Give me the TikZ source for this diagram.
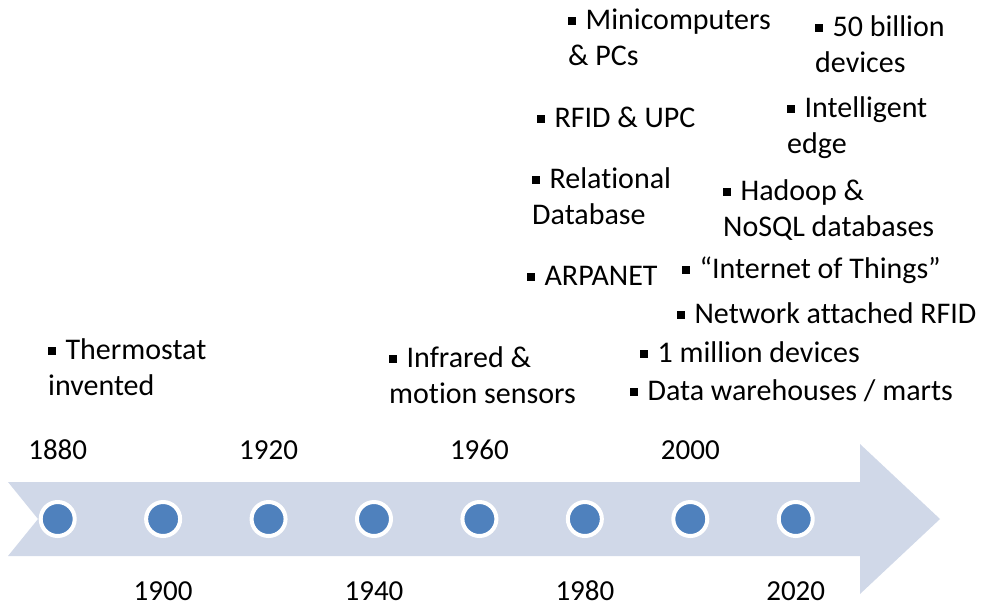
\documentclass[tikz,border=0pt]{standalone}
\usepackage{fontspec}
\setmainfont{Carlito}[Ligatures=NoCommon]
\definecolor{arrowfill}{HTML}{D0D8E8}
\definecolor{dotblue}{HTML}{4F81BD}
\newcommand{\bul}{\raisebox{0.13em}{\rule{0.27em}{0.27em}}\hspace{0.31em}}
\begin{document}
\begin{tikzpicture}[x=1pt,y=-1pt,
  item/.style={anchor=base west,inner sep=0pt,align=left,font=\fontsize{30}{36}\selectfont},
  year/.style={anchor=base,inner sep=0pt,font=\fontsize{29}{36}\selectfont},
  dot/.style={circle,fill=dotblue,draw=white,line width=4pt,minimum size=34pt,inner sep=0pt}]
\useasboundingbox (0,0) rectangle (984,606);
% big arrow
\fill[arrowfill] (8,482) -- (860,482) -- (860,444) -- (940,519) -- (860,594) -- (860,556) -- (8,556) -- (38,519) -- cycle;
% dots
\foreach \i in {0,...,7}{
  \node[dot] (d\i) at ({57.7+105.43*\i},519) {};
}
% years
\node[year] (y1880) at (57.7,459) {1880};
\node[year] (y1900) at (163.1,600) {1900};
\node[year] (y1920) at (268.6,459) {1920};
\node[year] (y1940) at (374.0,600) {1940};
\node[year] (y1960) at (479.4,459) {1960};
\node[year] (y1980) at (584.9,600) {1980};
\node[year] (y2000) at (690.3,459) {2000};
\node[year] (y2020) at (795.7,600) {2020};
% items (multi-line nodes: anchor at baseline of last line)
\node[item] (thermo) at (48,395) {\bul Thermostat\\invented};
\node[item] (infra) at (389,403) {\bul Infrared \&\\motion sensors};
\node[item] (mini) at (568,65) {\bul Minicomputers\\\& PCs};
\node[item] (fifty) at (815,72) {\bul 50 billion\\devices};
\node[item] (rfid) at (537,127) {\bul RFID \& UPC};
\node[item] (intel) at (787,153) {\bul Intelligent\\edge};
\node[item] (rel) at (532,224) {\bul Relational\\Database};
\node[item] (hadoop) at (723,236) {\bul Hadoop \&\\NoSQL databases};
\node[item] (arpa) at (527,285) {\bul ARPANET};
\node[item] (iot) at (682,278) {\bul “Internet of Things”};
\node[item] (net) at (677,323) {\bul Network attached RFID};
\node[item] (mill) at (640,362) {\bul 1 million devices};
\node[item] (dw) at (630,400) {\bul Data warehouses / marts};
\end{tikzpicture}
\end{document}
